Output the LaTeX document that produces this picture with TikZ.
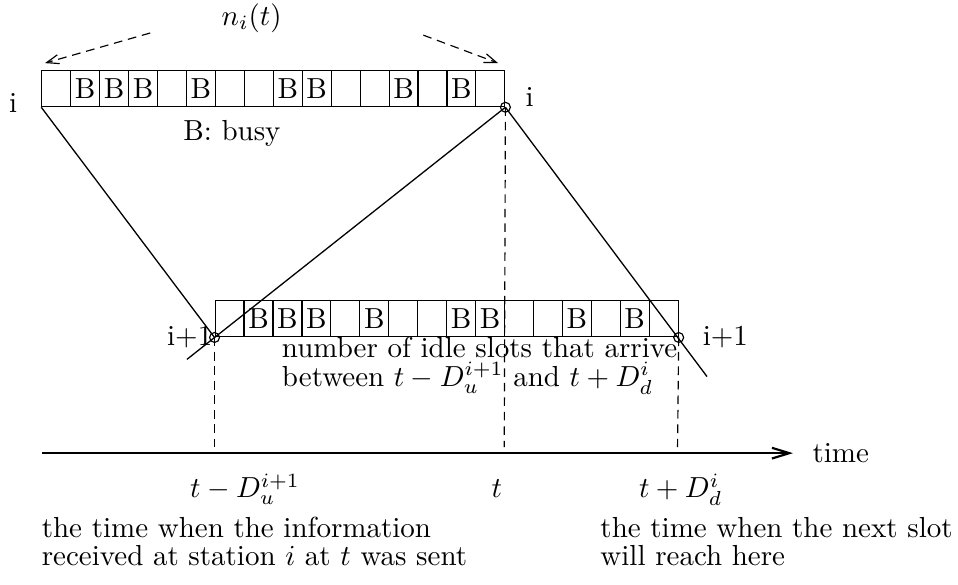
\documentclass[tikz,border=0pt]{standalone}
\usetikzlibrary{arrows.meta, positioning, calc}

\begin{document}
\begin{tikzpicture}[>={Straight Barb[length=2.1mm, width=1.3mm]},slot/.style={draw, line width=0.4pt, minimum width=0.3507cm, minimum height=0.436cm, inner sep=0pt, anchor=south west},station/.style={draw, circle, minimum size=0.12cm, inner sep=0pt, line width=0.4pt},signal/.style={line width=0.45pt},marker/.style={line width=0.4pt, dash pattern=on 3pt off 2pt},axis/.style={->, line width=0.75pt},caption/.style={inner sep=0pt, anchor=base west}]
\useasboundingbox (0,0) rectangle (11.61,7.08);
% the same slot train, seen at station i and at station i+1
\foreach \k/\s in {0/{},1/B,2/B,3/B,4/{},5/B,6/{},7/{},8/B,9/B,10/{},11/{},12/B,13/{},14/B,15/{}} {
  \node[slot] (up\k) at (0.50+0.3507*\k,5.78) {\s};
  \node[slot] (dn\k) at (2.60+0.3507*\k,2.99) {\s};
}
\node[station] (si) at (up15.south east) {};
\node[station] (sl) at (dn0.south west) {};
\node[station] (sr) at (dn15.south east) {};
\coordinate (farL) at (2.266,2.725); \coordinate (farR) at (8.568,2.516);
\draw[signal] (up0.south west) -- (sl.center);
\draw[signal] (si.center) -- (farL);
\draw[signal] (si.center) -- (farR);
\node (stI) at (0.16,5.83) {i}; \node (stIb) at (6.42,5.90) {i};
\node[anchor=east, inner sep=0pt] (stJ) at (2.58,3.0) {i+1};
\node[anchor=west, inner sep=0pt] (stJb) at (8.51,3.0) {i+1};
\node (busy) at (2.81,5.466) {B: busy};
\node (count) at (3.05,6.86) {$n_i(t)$};
\coordinate (cL) at (1.82,6.68); \coordinate (cLe) at (0.545,6.315);
\coordinate (cR) at (5.13,6.654); \coordinate (cRe) at (6.036,6.315);
\draw[marker, -{Straight Barb[length=1.5mm, width=1.1mm]}] (cL) -- (cLe);
\draw[marker, -{Straight Barb[length=1.5mm, width=1.1mm]}] (cR) -- (cRe);
\node[caption] (idleA) at (3.41,2.75) {number of idle slots that arrive};
\node[caption] (idleB) at (3.41,2.40) {between $t-D_u^{i+1}$ and $t+D_d^i$};
% time axis
\coordinate (mL) at (2.60,1.66); \coordinate (mT) at (6.111,1.66); \coordinate (mR) at (8.211,1.66);
\draw[marker] (sl.center) -- (mL);
\draw[marker] (si.center) -- (mT);
\draw[marker] (sr.center) -- (mR);
\coordinate (t0) at (0.51,1.588);
\node[anchor=west, inner sep=0pt] (time) at (9.84,1.588) {time};
\draw[axis, shorten >=0.23cm] (t0) -- (time.west);
\node[anchor=base] (lblL) at (2.97,1.05) {$t-D_u^{i+1}$};
\node[anchor=base] (lblT) at (6.02,1.05) {$t$};
\node[anchor=base] (lblR) at (8.25,1.05) {$t+D_d^i$};
\node[caption] (sentA) at (0.50,0.56) {the time when the information};
\node[caption] (sentB) at (0.50,0.23) {received at station $i$ at $t$ was sent};
\node[caption] (nextA) at (7.27,0.56) {the time when the next slot};
\node[caption] (nextB) at (7.27,0.23) {will reach here};
\end{tikzpicture}
\end{document}
